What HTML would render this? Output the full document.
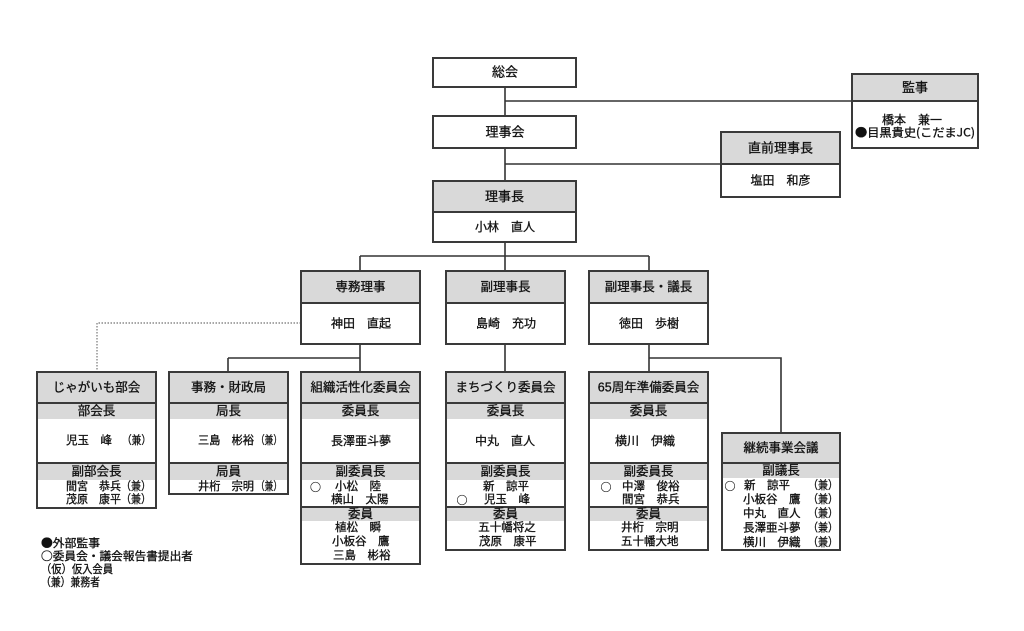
<!DOCTYPE html>
<html><head><meta charset="utf-8">
<style>
html,body{margin:0;padding:0;background:#fff;}
svg{display:block;}
text{font-family:"Liberation Sans","Noto Sans CJK JP",sans-serif;fill:#111;stroke:#111;stroke-width:0.3;dominant-baseline:central;}
.t{font-size:13px;text-anchor:middle;}
.h{font-size:12.5px;text-anchor:middle;}
.m{font-size:12px;text-anchor:middle;}
.n{font-size:11.5px;}
.c{text-anchor:middle;}
.o{font-family:"Noto Sans CJK JP","Liberation Sans",sans-serif;font-size:11px;text-anchor:middle;stroke-width:0.2;}
.lg{font-size:11.5px;font-family:"Noto Sans CJK JP","Liberation Sans",sans-serif;}
.cj{font-family:"Noto Sans CJK JP","Liberation Sans",sans-serif;}
</style></head><body>
<svg width="1024" height="631" viewBox="0 0 1024 631" xmlns="http://www.w3.org/2000/svg">
<rect x="0" y="0" width="1024" height="631" fill="#fff"/>

<!-- gray fills -->
<g fill="#d9d9d9">
  <rect x="852" y="74" width="126" height="27"/>
  <rect x="721" y="132" width="119" height="32"/>
  <rect x="433" y="181" width="143" height="31"/>
  <rect x="301" y="271" width="119" height="32"/>
  <rect x="446" y="271" width="119" height="32"/>
  <rect x="589" y="271" width="119" height="32"/>
  <rect x="37" y="372" width="119" height="47"/>
  <rect x="37" y="463" width="119" height="17"/>
  <rect x="169" y="372" width="119" height="47"/>
  <rect x="169" y="463" width="119" height="17"/>
  <rect x="301" y="372" width="119" height="47"/>
  <rect x="301" y="463" width="119" height="17"/>
  <rect x="301" y="507" width="119" height="14"/>
  <rect x="446" y="372" width="119" height="47"/>
  <rect x="446" y="463" width="119" height="17"/>
  <rect x="446" y="507" width="119" height="14"/>
  <rect x="589" y="372" width="119" height="47"/>
  <rect x="589" y="463" width="119" height="17"/>
  <rect x="589" y="507" width="119" height="14"/>
  <rect x="722" y="433" width="118" height="45"/>
</g>

<!-- connectors -->
<g stroke="#333" stroke-width="1.6" fill="none">
  <path d="M505 87 V116"/>
  <path d="M505 101 H852"/>
  <path d="M505 148 V181"/>
  <path d="M505 164 H721"/>
  <path d="M505 242 V271"/>
  <path d="M360 256 H649"/>
  <path d="M360 256 V271"/>
  <path d="M649 256 V271"/>
  <path d="M360 344 V372"/>
  <path d="M228 358 H360"/>
  <path d="M228 358 V372"/>
  <path d="M505 344 V372"/>
  <path d="M649 344 V372"/>
  <path d="M649 358 H781 V433"/>
</g>
<path d="M301 323 H97 V372" stroke="#8a8a8a" stroke-width="1.4" fill="none" stroke-dasharray="1.5 1.5"/>

<!-- box borders and dividers -->
<g stroke="#3a3a3a" stroke-width="2" fill="none">
  <rect x="433" y="58" width="143" height="29"/>
  <rect x="852" y="74" width="126" height="74"/>
  <path d="M852 101 H978"/>
  <rect x="433" y="116" width="143" height="32"/>
  <rect x="721" y="132" width="119" height="65"/>
  <path d="M721 164 H840"/>
  <rect x="433" y="181" width="143" height="61"/>
  <path d="M433 212 H576"/>

  <rect x="301" y="271" width="119" height="73"/>
  <path d="M301 303 H420"/>
  <rect x="446" y="271" width="119" height="73"/>
  <path d="M446 303 H565"/>
  <rect x="589" y="271" width="119" height="73"/>
  <path d="M589 303 H708"/>

  <rect x="37" y="372" width="119" height="136"/>
  <path d="M37 403 H156 M37 463 H156"/>
  <rect x="169" y="372" width="119" height="122"/>
  <path d="M169 403 H288 M169 463 H288"/>
  <rect x="301" y="372" width="119" height="192"/>
  <path d="M301 403 H420 M301 463 H420 M301 507 H420"/>
  <rect x="446" y="372" width="119" height="178"/>
  <path d="M446 403 H565 M446 463 H565 M446 507 H565"/>
  <rect x="589" y="372" width="119" height="178"/>
  <path d="M589 403 H708 M589 463 H708 M589 507 H708"/>
  <rect x="722" y="433" width="118" height="117"/>
  <path d="M722 463 H840"/>
</g>

<!-- top texts -->
<text class="t" x="505" y="72">総会</text>
<text class="t" x="505" y="132">理事会</text>
<text class="t" x="915" y="87.5">監事</text>
<text class="m" x="912" y="120">橋本　兼一</text>
<text class="n c cj" x="915" y="132.5" textLength="120" lengthAdjust="spacingAndGlyphs">●目黒貴史(こだまJC)</text>
<text class="t" x="780.5" y="148">直前理事長</text>
<text class="m" x="780.5" y="180.5">塩田　和彦</text>
<text class="t" x="504.5" y="196.5">理事長</text>
<text class="m" x="505" y="227">小林　直人</text>

<!-- second tier -->
<text class="h" x="360.5" y="287">専務理事</text>
<text class="m" x="361" y="323.5">神田　直起</text>
<text class="h" x="505.5" y="287">副理事長</text>
<text class="m" x="506" y="323.5">島崎　充功</text>
<text class="h" x="648.5" y="287">副理事長・議長</text>
<text class="m" x="649" y="323.5">徳田　歩樹</text>

<!-- third tier headers -->
<text class="h" x="96.5" y="387.5">じゃがいも部会</text>
<text class="h" x="228.5" y="387.5">事務・財政局</text>
<text class="h" x="360.5" y="387.5">組織活性化委員会</text>
<text class="h" x="505.5" y="387.5">まちづくり委員会</text>
<text class="h" x="648.5" y="387.5">65周年準備委員会</text>
<text class="h" x="781" y="448">継続事業会議</text>

<!-- subheaders -->
<text class="h" x="96.5" y="411">部会長</text>
<text class="h" x="228.5" y="411">局長</text>
<text class="h" x="360.5" y="411">委員長</text>
<text class="h" x="505.5" y="411">委員長</text>
<text class="h" x="648.5" y="411">委員長</text>

<text class="h" x="96.5" y="471.5">副部会長</text>
<text class="h" x="228.5" y="471.5">局員</text>
<text class="h" x="360.5" y="471.5">副委員長</text>
<text class="h" x="505.5" y="471.5">副委員長</text>
<text class="h" x="648.5" y="471.5">副委員長</text>
<text class="h" x="781" y="470.5">副議長</text>

<text class="h" x="360.5" y="514">委員</text>
<text class="h" x="505.5" y="514">委員</text>
<text class="h" x="648.5" y="514">委員</text>

<!-- middle names -->
<text class="n" x="66" y="441">児玉　峰</text>
<text class="n" x="122" y="441" textLength="29" lengthAdjust="spacingAndGlyphs">（兼）</text>
<text class="n" x="198" y="441" textLength="56" lengthAdjust="spacingAndGlyphs">三島　彬裕</text>
<text class="n" x="256" y="441" textLength="26" lengthAdjust="spacingAndGlyphs">（兼）</text>
<text class="m" x="361" y="441">長澤亜斗夢</text>
<text class="m" x="505" y="441">中丸　直人</text>
<text class="m" x="645" y="441">横川　伊織</text>

<!-- じゃがいも rows -->
<text class="n" x="66" y="487" textLength="55" lengthAdjust="spacingAndGlyphs">間宮　恭兵</text>
<text class="n" x="121" y="487" textLength="30" lengthAdjust="spacingAndGlyphs">（兼）</text>
<text class="n" x="66" y="500" textLength="55" lengthAdjust="spacingAndGlyphs">茂原　康平</text>
<text class="n" x="121" y="500" textLength="30" lengthAdjust="spacingAndGlyphs">（兼）</text>

<!-- 事務 rows -->
<text class="n" x="198" y="487" textLength="56" lengthAdjust="spacingAndGlyphs">井桁　宗明</text>
<text class="n" x="256" y="487" textLength="26" lengthAdjust="spacingAndGlyphs">（兼）</text>

<!-- 組織 rows -->
<text class="o" x="315.5" y="487">○</text>
<text class="n" x="335" y="487">小松　陸</text>
<text class="n" x="331" y="500">横山　太陽</text>
<text class="n" x="335" y="528">植松　瞬</text>
<text class="n" x="332" y="542">小板谷　鷹</text>
<text class="n" x="333" y="556">三島　彬裕</text>

<!-- まち rows -->
<text class="n" x="483" y="487">新　諒平</text>
<text class="o" x="462" y="500">○</text>
<text class="n" x="484" y="500">児玉　峰</text>
<text class="n c" x="507" y="528">五十幡将之</text>
<text class="n" x="479" y="542">茂原　康平</text>

<!-- 65 rows -->
<text class="o" x="606" y="487">○</text>
<text class="n" x="622" y="487">中澤　俊裕</text>
<text class="n" x="622" y="500">間宮　恭兵</text>
<text class="n" x="621" y="528">井桁　宗明</text>
<text class="n" x="621" y="542">五十幡大地</text>

<!-- 継続 rows -->
<text class="o" x="730" y="486">○</text>
<text class="n" x="744" y="486">新　諒平</text>
<text class="n" x="808" y="486" textLength="30" lengthAdjust="spacingAndGlyphs">（兼）</text>
<text class="n" x="743" y="500">小板谷　鷹</text>
<text class="n" x="808" y="500" textLength="30" lengthAdjust="spacingAndGlyphs">（兼）</text>
<text class="n" x="743" y="514">中丸　直人</text>
<text class="n" x="808" y="514" textLength="30" lengthAdjust="spacingAndGlyphs">（兼）</text>
<text class="n" x="743" y="528.5">長澤亜斗夢</text>
<text class="n" x="808" y="528.5" textLength="30" lengthAdjust="spacingAndGlyphs">（兼）</text>
<text class="n" x="743" y="543">横川　伊織</text>
<text class="n" x="808" y="543" textLength="30" lengthAdjust="spacingAndGlyphs">（兼）</text>

<!-- legend -->
<text class="lg" x="41" y="543" textLength="59" lengthAdjust="spacingAndGlyphs">●外部監事</text>
<text class="lg" x="41" y="556" textLength="152" lengthAdjust="spacingAndGlyphs">○委員会・議会報告書提出者</text>
<text class="lg" x="41" y="569" textLength="72" lengthAdjust="spacingAndGlyphs">（仮）仮入会員</text>
<text class="lg" x="41" y="582" textLength="59" lengthAdjust="spacingAndGlyphs">（兼）兼務者</text>
</svg>
</body></html>
